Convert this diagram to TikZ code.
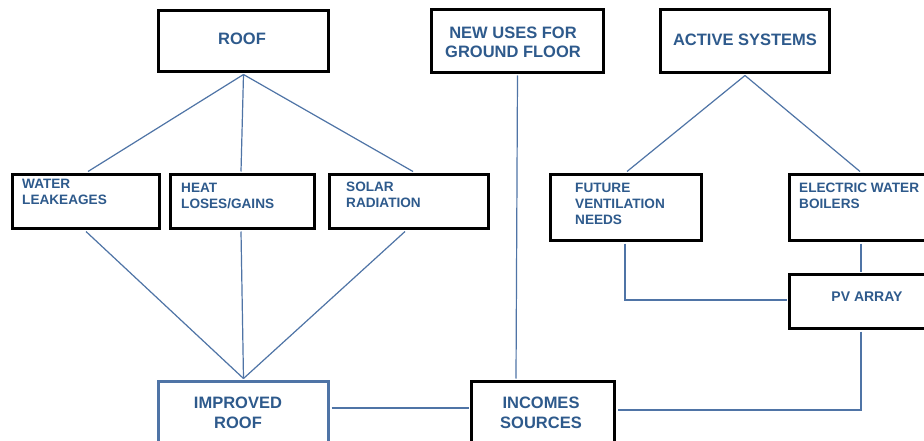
\documentclass[tikz,border=0pt]{standalone}
\usepackage{fontspec}
\setmainfont{Liberation Sans}
\usetikzlibrary{calc}
\definecolor{txtblue}{HTML}{2E5A8C}
\definecolor{lnblue}{HTML}{4F74A6}
\tikzset{
  box/.style={draw=black, line width=3pt, fill=white, inner sep=0pt, anchor=north west},
  bluebox/.style={box, draw=lnblue},
  bigtxt/.style={text=txtblue, font=\fontsize{16.5}{19.5}\selectfont\bfseries, align=center, inner sep=0pt},
  smalltxt/.style={text=txtblue, font=\fontsize{13.6}{16.2}\selectfont\bfseries, align=left, inner sep=0pt, anchor=north west},
  conn/.style={draw=lnblue, line width=1.2pt}
}
\begin{document}
\begin{tikzpicture}[x=1pt,y=-1pt]
\useasboundingbox (0,0) rectangle (924,441);
\clip (0,0) rectangle (924,441);
\fill[white] (0,0) rectangle (924,441);
% boxes
\node[box, minimum width=170pt, minimum height=61pt] (roof) at (157,9) {};
\node[box, minimum width=172pt, minimum height=63pt] (newuses) at (430,8) {};
\node[box, minimum width=169pt, minimum height=63pt] (active) at (659,8) {};
\node[box, minimum width=147pt, minimum height=54pt] (water) at (11,173) {};
\node[box, minimum width=144pt, minimum height=54pt] (heat) at (169,173) {};
\node[box, minimum width=159pt, minimum height=54pt] (solar) at (328,173) {};
\node[box, minimum width=151pt, minimum height=66pt] (future) at (549,173) {};
\node[box, minimum width=160pt, minimum height=66pt] (electric) at (788,173) {};
\node[box, minimum width=160pt, minimum height=54pt] (pv) at (788,273) {};
\node[bluebox, minimum width=170pt, minimum height=75pt] (improved) at (157,380) {};
\node[box, minimum width=143pt, minimum height=75pt] (incomes) at (470,380) {};
% texts
\node[bigtxt] (troof) at (242,38.5) {ROOF};
\node[bigtxt] (tnew) at (513,42.5) {NEW USES FOR\\GROUND FLOOR};
\node[bigtxt] (tactive) at (745,40) {ACTIVE SYSTEMS};
\node[bigtxt, font=\fontsize{16.5}{20.5}\selectfont\bfseries] (timpr) at (238,413) {IMPROVED\\ROOF};
\node[bigtxt, font=\fontsize{16.5}{20.5}\selectfont\bfseries] (tinc) at (541,413) {INCOMES\\SOURCES};
\node[bigtxt, font=\fontsize{14}{16}\selectfont\bfseries] (tpv) at (867,297) {PV ARRAY};
\node[smalltxt] (twater) at (22,179) {WATER\\LEAKEAGES};
\node[smalltxt] (theat) at (181,182.5) {HEAT\\LOSES/GAINS};
\node[smalltxt] (tsolar) at (346,182) {SOLAR\\RADIATION};
\node[smalltxt] (tfuture) at (575,182.5) {FUTURE\\VENTILATION\\NEEDS};
\node[smalltxt] (telec) at (799,182.5) {ELECTRIC WATER\\BOILERS};
% connectors
\coordinate (rs) at ($(roof.south)+(0,1.5)$);
\draw[conn] (rs) -- ($(water.north west)+(77,-1.5)$);
\draw[conn] (rs) -- ($(heat.north west)+(72,-1.5)$);
\draw[conn] (rs) -- ($(solar.north west)+(85,-1.5)$);
\coordinate (ir) at ($(improved.north)+(0,-1.5)$);
\draw[conn] ($(water.south west)+(75,1.5)$) -- (ir);
\draw[conn] ($(heat.south west)+(72,1.5)$) -- (ir);
\draw[conn] ($(solar.south west)+(77,1.5)$) -- (ir);
\draw[conn] ($(newuses.south)+(0,1.5)$) -- ($(incomes.north west)+(46,-1.5)$);
\coordinate (as) at ($(active.south)+(0,1.5)$);
\draw[conn] (as) -- ($(future.north west)+(78,-1.5)$);
\draw[conn] (as) -- ($(electric.north west)+(72,-1.5)$);
\draw[conn] ($(future.south west)+(76,1.5)$) |- ($(pv.north west)+(-1.5,27)$);
\draw[conn] ($(electric.south west)+(73,1.5)$) -- ($(pv.north west)+(73,-1.5)$);
\draw[conn] ($(pv.south west)+(73,1.5)$) |- ($(incomes.north east)+(1.5,30)$);
\draw[conn] ($(improved.north east)+(1.5,28)$) -- ($(incomes.north west)+(-1.5,28)$);
\end{tikzpicture}
\end{document}
